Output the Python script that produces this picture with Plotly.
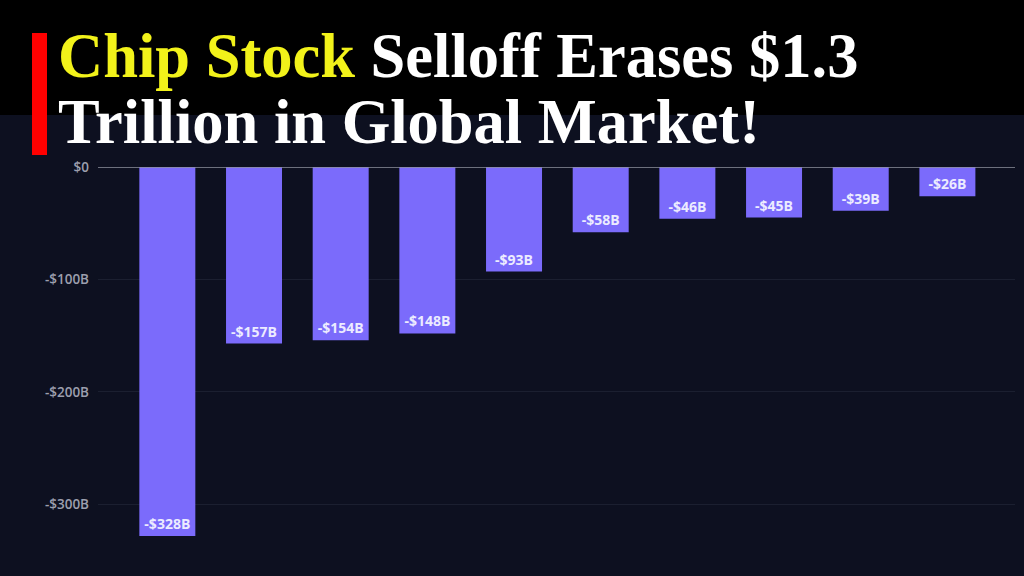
import plotly.graph_objects as go

categories = ["A", "B", "C", "D", "E", "F", "G", "H", "I", "J"]
losses = [-328, -157, -154, -148, -93, -58, -46, -45, -39, -26]
labels = ["-$328B", "-$157B", "-$154B", "-$148B", "-$93B", "-$58B", "-$46B", "-$45B", "-$39B", "-$26B"]
tick_vals = [0, -100, -200, -300]
tick_text = ["$0", "-$100B", "-$200B", "-$300B"]

W, H = 1024, 576
L, R, T, B = 98, 9, 167, 21
PW, PH = W - L - R, H - T - B

def px(x):
    return (x - L) / PW

def py(y):
    return (H - B - y) / PH

BG = "#0d1020"

fig = go.Figure()
fig.add_trace(go.Bar(
    x=list(range(len(categories))),
    y=losses,
    text=labels,
    textposition="inside",
    insidetextanchor="end",
    textangle=0,
    textfont=dict(family="Open Sans", size=14, color="#ecebff", weight=700),
    marker=dict(color="#7b6bfb", line=dict(width=0)),
    width=0.646,
    hoverinfo="skip",
))

fig.update_layout(
    width=W, height=H,
    margin=dict(l=L, r=R, t=T, b=B),
    paper_bgcolor=BG,
    plot_bgcolor=BG,
    showlegend=False,
    xaxis=dict(range=[-0.8, 9.78], showticklabels=False, showgrid=False,
               zeroline=False, showline=False, fixedrange=True),
    yaxis=dict(range=[-345, 0], tickvals=tick_vals, ticktext=tick_text,
               showgrid=True, gridcolor="#1b1f30", gridwidth=1,
               zeroline=False, showline=False, ticks="", ticklabelstandoff=8,
               tickfont=dict(family="Open Sans", size=13.5, color="#9c9fae", weight=600)),
    uniformtext=dict(minsize=8, mode="show"),
)

# zero line
fig.add_shape(type="line", xref="paper", yref="y", x0=0, x1=1, y0=0, y1=0,
              line=dict(color="#8e909c", width=1.5), layer="above")

# header band
fig.add_shape(type="rect", xref="paper", yref="paper",
              x0=px(0), x1=px(W), y0=py(115), y1=py(0),
              fillcolor="#000000", line=dict(width=0), layer="below")
# red accent bar
fig.add_shape(type="rect", xref="paper", yref="paper",
              x0=px(32), x1=px(47), y0=py(155), y1=py(33),
              fillcolor="#ff0000", line=dict(width=0), layer="above")

title_font = dict(family="Liberation Serif", size=62.5, color="#ffffff", weight=700)
fig.add_annotation(
    xref="paper", yref="paper", x=px(56), y=py(56), xanchor="left", yanchor="middle",
    text="<span style='color:#f2f21a'>Chip Stock</span> Selloff Erases $1.3",
    showarrow=False, font=title_font,
)
fig.add_annotation(
    xref="paper", yref="paper", x=px(56), y=py(122), xanchor="left", yanchor="middle",
    text="Trillion in Global Market!",
    showarrow=False, font=title_font,
)

fig.write_html("out.html")
